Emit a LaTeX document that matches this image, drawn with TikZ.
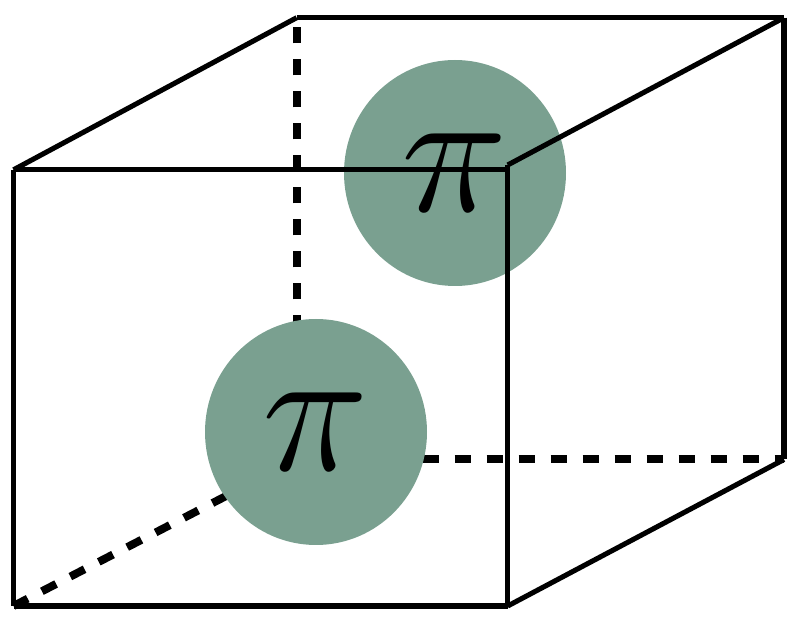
\RequirePackage{fix-cm}
\documentclass[tikz,border=0pt]{standalone}
\usepackage{amsmath,amssymb}
\usepackage{xcolor}
\usepackage{tikz}
\usetikzlibrary{positioning,shapes.geometric}
\definecolor{esfera}{HTML}{7AA090}
\tikzset{
    aresta/.style={line width=3.8pt},
    oculta/.style={line width=6pt, dash pattern=on 12pt off 12pt},
    carga/.style={
        ellipse,
        fill=esfera,
        inner sep=0pt,
        minimum width=166.5pt,
        minimum height=169.5pt,
        font=\fontsize{135}{135}\selectfont
    }
}

\begin{document}
\begin{tikzpicture}[x=0.75pt,y=-0.75pt]

        \useasboundingbox (0,0) rectangle (790,623);

        \coordinate (fsw) at (13.5,606);
        \coordinate (fse) at (507.7,606);
        \coordinate (fnw) at (13.5,169.8);
        \coordinate (fne) at (507.7,165);
        \coordinate (bsw) at (296.7,459.5);
        \coordinate (bse) at (784,459.5);
        \coordinate (bnw) at (296.7,17.7);
        \coordinate (bne) at (784,17.7);

        \draw[oculta] (bsw) -- (bnw);
        \draw[oculta, dash phase=1.5pt] (bsw) -- (bse);
        \draw[oculta] (fsw) -- (bsw);

        \node[carga] (piTras) at (455,173) {$\pi$};
        \node[carga] (piFrente) at (316,432) {$\pi$};

        \draw[aresta] (fnw) -- (fne |- fnw);
        \draw[aresta] (fne) -- (fse);
        \draw[aresta] (fse) -- (fsw);
        \draw[aresta] (fsw) -- (fnw);
        \draw[aresta] (fnw) -- (bnw);
        \draw[aresta] (bnw) -- (bne);
        \draw[aresta] (bne) -- (bse);
        \draw[aresta] (bse) -- (fse);
        \draw[aresta] (fne) -- (bne);

\end{tikzpicture}
\end{document}
